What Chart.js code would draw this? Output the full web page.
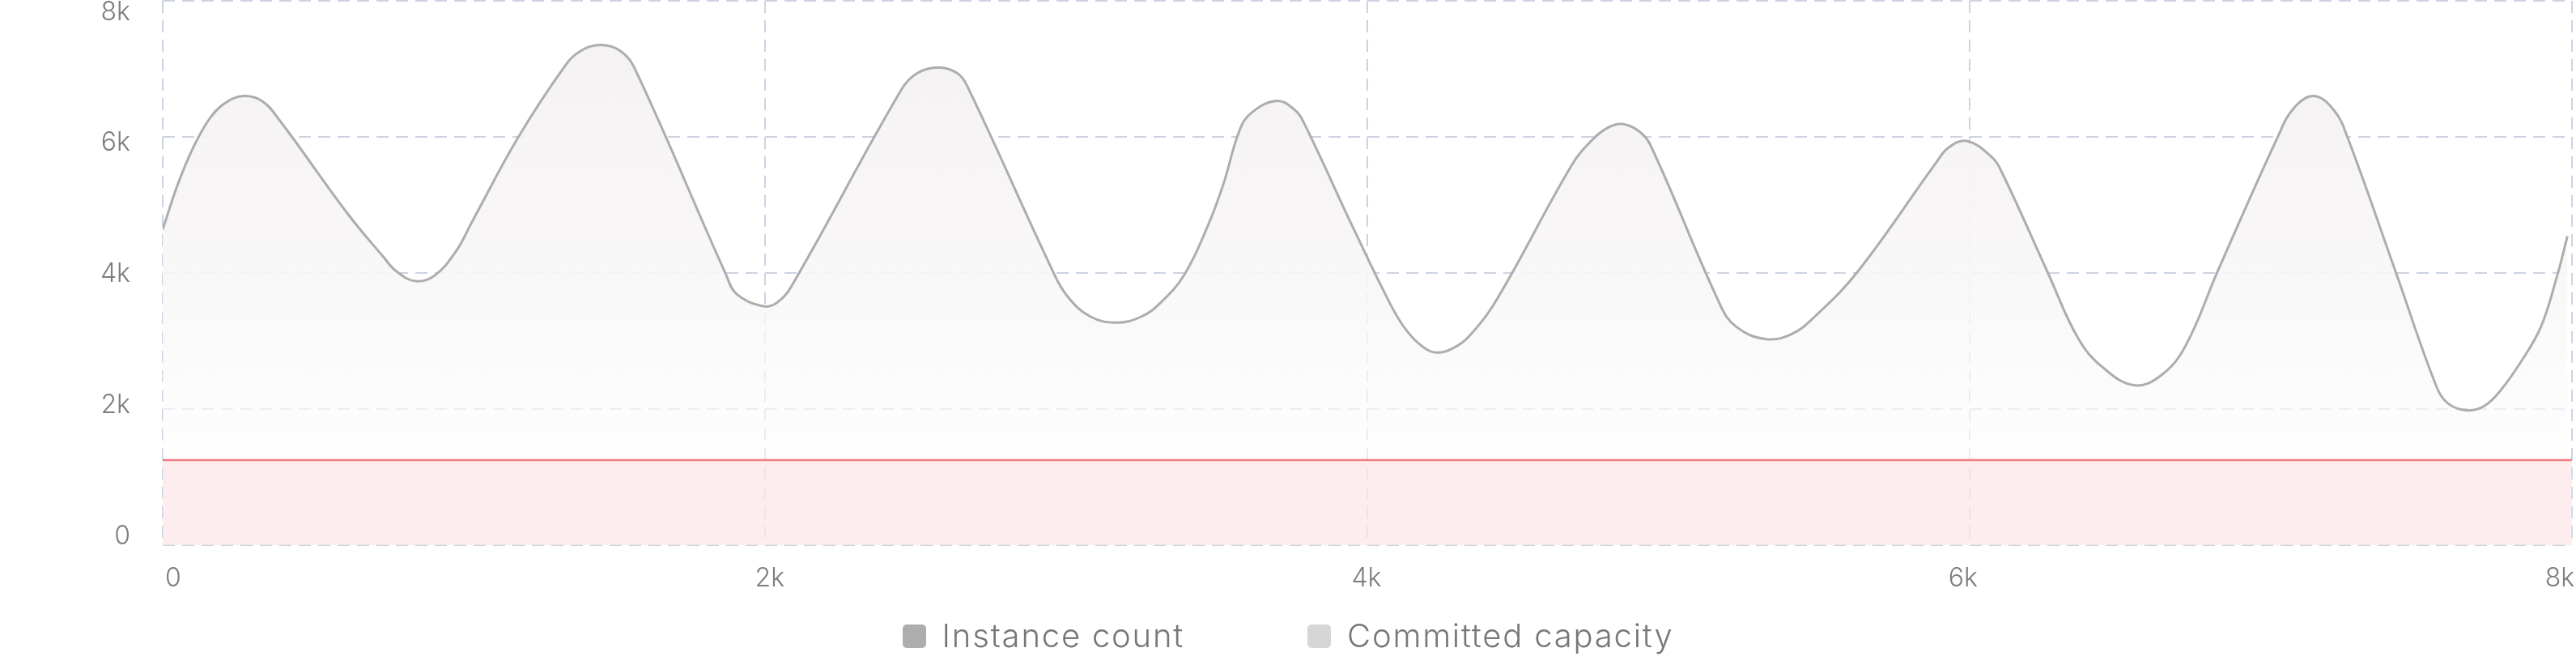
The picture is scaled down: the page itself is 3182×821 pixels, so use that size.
<!DOCTYPE html>
<html>
<head>
<meta charset="utf-8">
<title>Instance count vs committed capacity</title>
<script src="https://cdn.jsdelivr.net/npm/chart.js@4.4.1/dist/chart.umd.min.js"></script>
<style>
  html, body { margin: 0; padding: 0; background: #fff; }
  #wrap { position: relative; width: 3182px; height: 821px; }
  #legend {
    position: absolute; left: 0; right: 0; top: 761px;
    display: flex; justify-content: center; gap: 152px;
    font-family: Inter, "DejaVu Sans", sans-serif; font-weight: 300; font-size: 40px;
    letter-spacing: 1.8px; line-height: 48px; color: #777;
  }
  .item { display: flex; align-items: center; }
  .swatch { width: 29px; height: 29px; border-radius: 5px; margin-right: 20px; }
</style>
</head>
<body>
<div id="wrap">
  <canvas id="capacityChart"></canvas>
  <div id="legend"></div>
</div>
<script>
// ticks
const xTicks = [0, 2000, 4000, 6000, 8000];
const xTickLabels = ['0', '2k', '4k', '6k', '8k'];
const yTicks = [0, 2000, 4000, 6000, 8000];
const yTickLabels = ['0', '2k', '4k', '6k', '8k'];

// instance count
const sampleX = [0, 49, 101, 153, 205, 267, 329, 387, 616, 732, 777, 840, 902, 974, 1028,
  1180, 1332, 1386, 1453, 1521, 1570, 1870, 1906, 1995, 2038, 2083, 2455, 2507, 2575,
  2637, 2670, 2950, 3002, 3080, 3168, 3250, 3315, 3393, 3471, 3523, 3575, 3614, 3699,
  3758, 3790, 3949, 4079, 4131, 4183, 4229, 4287, 4340, 4431, 4678, 4743, 4796, 4845,
  4900, 4939, 5173, 5225, 5321, 5408, 5486, 5630, 5890, 5929, 5990, 6072, 6108, 6260,
  6359, 6440, 6547, 6637, 6717, 6825, 7022, 7076, 7143, 7210, 7255, 7416, 7553, 7592,
  7655, 7711, 7764, 7830, 7897, 7949, 7985];
const instanceCount = [4640, 5290, 5840, 6250, 6490, 6600, 6530, 6250, 4860, 4240, 4020, 3880, 3960, 4320, 4760,
  5990, 7020, 7260, 7350, 7260, 6980, 3980, 3690, 3510, 3560, 3770, 6710, 6940, 7020,
  6940, 6760, 4080, 3670, 3360, 3270, 3360, 3570, 3980, 4700, 5320, 6090, 6350, 6530,
  6400, 6200, 4700, 3520, 3150, 2920, 2830, 2900, 3080, 3620, 5580, 5940, 6130, 6190,
  6090, 5890, 3520, 3210, 3030, 3100, 3360, 4030, 5630, 5840, 5940, 5710, 5470, 4000,
  3050, 2620, 2350, 2500, 2930, 4040, 5990, 6420, 6600, 6390, 5990, 4000, 2300, 2070,
  1980, 2050, 2280, 2690, 3210, 3930, 4540];

// committed capacity
const capacityX = [0, 8000];
const committedCapacity = [1250, 1250];

const legendItems = ['Instance count', 'Committed capacity'];
const legendColors = ['#adadad', '#d6d6d6'];

const tickFont = { family: 'Inter, "DejaVu Sans", sans-serif', size: 32, weight: 300 };
const tickColor = '#7d7d7d';
const gridColor = '#cdd3e2';

function instanceFill(context) {
    const chart = context.chart;
    const area = chart.chartArea;
    if (!area) return 'rgba(245,243,243,0.8)';
    const g = chart.ctx.createLinearGradient(0, area.top, 0, area.bottom);
    g.addColorStop(0, 'rgba(244,241,241,1)');
    g.addColorStop(0.5, 'rgba(248,246,246,0.9)');
    g.addColorStop(0.75, 'rgba(252,251,251,0.65)');
    g.addColorStop(1, 'rgba(255,255,255,0.4)');
    return g;
}

const config = {
    type: 'line',
    data: {
        datasets: [{
            label: legendItems[0],
            data: sampleX.map((x, i) => ({ x: x, y: instanceCount[i] })),
            borderColor: '#adadad',
            borderWidth: 3,
            backgroundColor: instanceFill,
            fill: 'origin',
            pointRadius: 0,
            tension: 0.4,
            order: 1
        }, {
            label: legendItems[1],
            data: capacityX.map((x, i) => ({ x: x, y: committedCapacity[i] })),
            borderColor: '#f07d84',
            borderWidth: 2.5,
            backgroundColor: 'rgba(251,222,224,0.55)',
            fill: 'origin',
            pointRadius: 0,
            order: 0
        }]
    },
    options: {
        responsive: true,
        maintainAspectRatio: false,
        animation: false,
        layout: { padding: { top: 1, right: 5, bottom: 88, left: 0 } },
        plugins: { legend: { display: false }, tooltip: { enabled: false } },
        scales: {
            x: {
                type: 'linear', position: 'bottom', min: 0, max: 8000,
                afterBuildTicks: s => { s.ticks = xTicks.map(v => ({ value: v })); },
                grid: { color: gridColor, lineWidth: 2, drawTicks: false },
                border: { display: false, dash: [15, 9] },
                ticks: { display: false },
                afterFit: s => { s.height = 0; s.paddingLeft = 0; s.paddingRight = 0; }
            },
            xLabel: {
                type: 'linear', position: 'bottom', weight: 1, min: -35, max: 8041,
                afterBuildTicks: s => { s.ticks = xTicks.map(v => ({ value: v })); },
                grid: { display: false, drawTicks: false },
                border: { display: false },
                ticks: {
                    padding: 22, maxRotation: 0, autoSkip: false,
                    font: tickFont, color: tickColor,
                    callback: (v, i) => xTickLabels[i]
                },
                afterFit: s => { s.height = 60; s.paddingLeft = 0; s.paddingRight = 0; }
            },
            y: {
                type: 'linear', position: 'left', min: 0, max: 8000,
                afterBuildTicks: s => { s.ticks = yTicks.map(v => ({ value: v })); },
                grid: { color: gridColor, lineWidth: 2, drawTicks: false },
                border: { display: false, dash: [15, 9] },
                ticks: { display: false },
                afterFit: s => { s.width = 0; s.paddingTop = 0; s.paddingBottom = 0; }
            },
            yLabel: {
                type: 'linear', position: 'left', weight: 1, min: -136, max: 8173,
                afterBuildTicks: s => { s.ticks = yTicks.map(v => ({ value: v })); },
                grid: { display: false, drawTicks: false },
                border: { display: false },
                ticks: {
                    padding: 40, font: tickFont, color: tickColor,
                    callback: (v, i) => yTickLabels[i]
                },
                afterFit: s => { s.width = 201; s.paddingTop = 0; s.paddingBottom = 0; }
            }
        }
    }
};

const ctx = document.getElementById('capacityChart').getContext('2d');
const capacityChart = new Chart(ctx, config);

// legend
const legendEl = document.getElementById('legend');
legendItems.forEach((name, i) => {
    const item = document.createElement('div');
    item.className = 'item';
    const sw = document.createElement('span');
    sw.className = 'swatch';
    sw.style.background = legendColors[i];
    const txt = document.createElement('span');
    txt.textContent = name;
    item.appendChild(sw);
    item.appendChild(txt);
    legendEl.appendChild(item);
});
</script>
</body>
</html>
